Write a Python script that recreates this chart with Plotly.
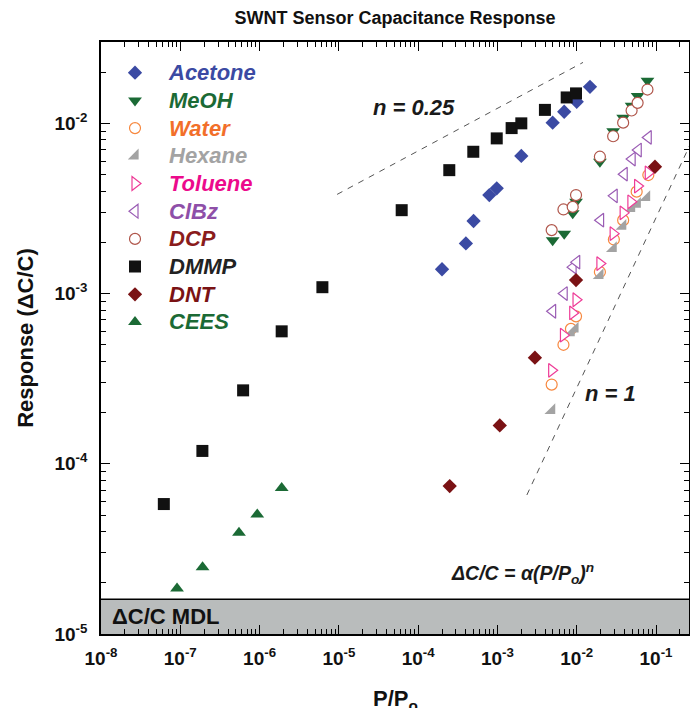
import plotly.graph_objects as go

# ---- measured responses (P/Po, dC/C) ----
ACETONE_X = [2.0e-4, 4.0e-4, 5.0e-4, 7.9e-4, 9.8e-4, 2.0e-3, 4.97e-3, 6.95e-3, 1.0e-2, 1.47e-2]
ACETONE_Y = [1.39e-3, 1.97e-3, 2.67e-3, 3.79e-3, 4.15e-3, 6.44e-3, 1.01e-2, 1.17e-2, 1.34e-2, 1.64e-2]

MEOH_X = [4.97e-3, 6.95e-3, 8.9e-3, 9.8e-3, 1.96e-2, 2.88e-2, 3.85e-2, 4.92e-2, 5.86e-2, 7.8e-2]
MEOH_Y = [2.06e-3, 2.25e-3, 2.96e-3, 3.46e-3, 5.94e-3, 9.0e-3, 1.08e-2, 1.27e-2, 1.45e-2, 1.78e-2]

WATER_X = [4.83e-3, 6.8e-3, 8.45e-3, 9.8e-3, 1.96e-2, 2.94e-2, 3.85e-2, 5.7e-2, 8.0e-2]
WATER_Y = [2.92e-4, 5.0e-4, 6.2e-4, 7.35e-4, 1.34e-3, 2.08e-3, 2.7e-3, 3.97e-3, 4.97e-3]

HEXANE_X = [4.83e-3, 8.5e-3, 9.5e-3, 1.96e-2, 2.88e-2, 3.8e-2, 4.92e-2, 5.8e-2, 7.6e-2]
HEXANE_Y = [2.06e-4, 5.9e-4, 6.2e-4, 1.28e-3, 1.84e-3, 2.49e-3, 3.16e-3, 3.35e-3, 3.67e-3]

TOLUENE_X = [4.83e-3, 6.8e-3, 8.9e-3, 9.8e-3, 1.96e-2, 2.88e-2, 3.85e-2, 4.82e-2, 5.86e-2, 7.98e-2]
TOLUENE_Y = [3.54e-4, 5.7e-4, 7.7e-4, 9.2e-4, 1.5e-3, 2.25e-3, 2.98e-3, 3.46e-3, 4.28e-3, 5.12e-3]

CLBZ_X = [4.97e-3, 6.95e-3, 9.0e-3, 1.0e-2, 2.0e-2, 2.97e-2, 3.97e-2, 5.0e-2, 5.97e-2, 7.98e-2]
CLBZ_Y = [7.87e-4, 1.0e-3, 1.43e-3, 1.53e-3, 2.7e-3, 3.75e-3, 5.03e-3, 6.17e-3, 6.97e-3, 8.27e-3]

DCP_X = [4.83e-3, 6.8e-3, 8.9e-3, 9.8e-3, 1.96e-2, 2.88e-2, 3.85e-2, 4.92e-2, 5.86e-2, 7.8e-2]
DCP_Y = [2.36e-3, 3.12e-3, 3.23e-3, 3.79e-3, 6.37e-3, 8.4e-3, 1.01e-2, 1.19e-2, 1.32e-2, 1.58e-2]

DMMP_X = [6.2e-8, 1.9e-7, 6.2e-7, 1.9e-6, 6.2e-6, 6.2e-5, 2.47e-4, 4.96e-4, 9.8e-4, 1.51e-3,
          2.0e-3, 3.97e-3, 7.47e-3, 9.8e-3]
DMMP_Y = [5.8e-5, 1.19e-4, 2.7e-4, 6.0e-4, 1.09e-3, 3.09e-3, 5.31e-3, 6.81e-3, 8.16e-3, 9.38e-3,
          1.0e-2, 1.2e-2, 1.42e-2, 1.5e-2]

DNT_X = [2.5e-4, 1.07e-3, 2.97e-3, 9.8e-3, 9.7e-2]
DNT_Y = [7.4e-5, 1.68e-4, 4.2e-4, 1.2e-3, 5.56e-3]

CEES_X = [9.1e-8, 1.91e-7, 5.5e-7, 9.35e-7, 1.9e-6]
CEES_Y = [1.85e-5, 2.47e-5, 3.93e-5, 5.04e-5, 7.2e-5]

# ---- power-law guide lines: dC/C = alpha * (P/Po)^n ----
GUIDE_LOW_N = 0.25
GUIDE_LOW_ALPHA = 6.89e-2
GUIDE_LOW_X = [9.5e-6, 1.2e-2]
GUIDE_HIGH_N = 1.0
GUIDE_HIGH_ALPHA = 2.79e-2
GUIDE_HIGH_X = [2.35e-3, 0.27]

MDL = 1.6e-5          # minimum detectable dC/C
Y_FLOOR = 1.0e-5

X_TICKS = [1e-8, 1e-7, 1e-6, 1e-5, 1e-4, 1e-3, 1e-2, 1e-1]
X_TICK_TEXT = ["10<sup>-8</sup>", "10<sup>-7</sup>", "10<sup>-6</sup>", "10<sup>-5</sup>",
               "10<sup>-4</sup>", "10<sup>-3</sup>", "10<sup>-2</sup>", "10<sup>-1</sup>"]
Y_TICKS = [1e-5, 1e-4, 1e-3, 1e-2]
Y_TICK_TEXT = ["10<sup>-5</sup>", "10<sup>-4</sup>", "10<sup>-3</sup>", "10<sup>-2</sup>"]

FONT = "Liberation Sans, Arial, sans-serif"

SERIES = [
    # name, x, y, symbol, size, marker fill, marker line, label colour
    ("Acetone", ACETONE_X, ACETONE_Y, "diamond", 11, "#3b4aa3", "#3b4aa3", "#3b4aa3"),
    ("MeOH", MEOH_X, MEOH_Y, "triangle-down", 12, "#1b6a35", "#1b6a35", "#1b6a35"),
    ("Water", WATER_X, WATER_Y, "circle", 11, "white", "#f7883f", "#f26f2a"),
    ("Hexane", HEXANE_X, HEXANE_Y, "triangle-se", 12, "#a3a3a3", "#a3a3a3", "#a3a3a3"),
    ("Toluene", TOLUENE_X, TOLUENE_Y, "triangle-right", 12, "white", "#ee3b97", "#ec0a8c"),
    ("ClBz", CLBZ_X, CLBZ_Y, "triangle-left", 12, "white", "#9a5cb4", "#8e4fa8"),
    ("DCP", DCP_X, DCP_Y, "circle", 11, "white", "#b0564b", "#8a1c1c"),
    ("DMMP", DMMP_X, DMMP_Y, "square", 12, "#111111", "#111111", "#222222"),
    ("DNT", DNT_X, DNT_Y, "diamond", 11, "#7a1214", "#7a1214", "#7a1214"),
    ("CEES", CEES_X, CEES_Y, "triangle-up", 12, "#1b6a35", "#1b6a35", "#1b6a35"),
]

fig = go.Figure()

# dashed guide lines
for alpha, n, xs in [(GUIDE_LOW_ALPHA, GUIDE_LOW_N, GUIDE_LOW_X),
                     (GUIDE_HIGH_ALPHA, GUIDE_HIGH_N, GUIDE_HIGH_X)]:
    fig.add_trace(go.Scatter(
        x=xs, y=[alpha * v ** n for v in xs], mode="lines",
        line=dict(color="#555555", width=1, dash="6px,6px"),
        showlegend=False, hoverinfo="skip"))

for name, xs, ys, sym, size, fill, edge, tcol in SERIES:
    fig.add_trace(go.Scatter(
        x=xs, y=ys, mode="markers", legendgroup=name,
        name=(f"<span style='color:{tcol};font-size:22px'>"
              f"<b><i>{name}</i></b></span>"),
        marker=dict(symbol=sym, size=size, color=fill,
                    line=dict(color=edge, width=1.2 if fill == "white" else 0))))

# detection-limit band
fig.add_shape(type="rect", xref="paper", x0=0, x1=1, yref="y", y0=Y_FLOOR, y1=MDL,
              fillcolor="#b9bcbc", line=dict(width=0), layer="below")
fig.add_shape(type="line", xref="paper", x0=0, x1=1, yref="y", y0=MDL, y1=MDL,
              line=dict(color="black", width=1.5))

ann_font = dict(family=FONT, size=22, color="#1a1a1a")
fig.add_annotation(x=-4.053, y=-1.904, xref="x", yref="y", showarrow=False,
                   text="<b><i>n = 0.25</i></b>", font=ann_font)
fig.add_annotation(x=-1.569, y=-3.586, xref="x", yref="y", showarrow=False,
                   text="<b><i>n = 1</i></b>", font=ann_font)
fig.add_annotation(x=-2.678, y=-4.645, xref="x", yref="y", showarrow=False,
                   text="<b><i>ΔC/C = α(P/P<sub>o</sub>)<sup>n</sup></i></b>",
                   font=dict(family=FONT, size=19.5, color="#1a1a1a"))
fig.add_annotation(x=0.015, y=-4.895, xref="paper", yref="y", showarrow=False,
                   xanchor="left", text="<b>ΔC/C MDL</b>",
                   font=dict(family=FONT, size=22, color="#111111"))
# x-axis title, set low so that it sits at the page's bottom edge
fig.add_annotation(x=0.5, y=-0.112, xref="paper", yref="paper", showarrow=False,
                   yanchor="middle", text="<b>P/P<sub>o</sub></b>",
                   font=dict(family=FONT, size=22, color="#111111"))

axis_common = dict(
    type="log", showgrid=False, zeroline=False, showline=True, linecolor="black",
    linewidth=1.5, mirror="allticks", ticks="inside", ticklen=9, tickwidth=1.2,
    tickcolor="black", tickmode="array", automargin=False,
    tickfont=dict(family=FONT, size=19, color="#111111"),
    minor=dict(ticks="inside", ticklen=5, tickwidth=1, tickcolor="black",
               dtick="D1", showgrid=False),
)

fig.update_xaxes(**axis_common, range=[-8, -0.584], tickvals=X_TICKS,
                 ticktext=[f"<b>{t}</b>" for t in X_TICK_TEXT], ticklabelstandoff=6)
fig.update_yaxes(**axis_common, range=[-5, -1.522], tickvals=Y_TICKS,
                 ticktext=[f"<b>{t}</b>" for t in Y_TICK_TEXT], ticklabelstandoff=8,
                 title=dict(text="<b>Response (ΔC/C)</b>", standoff=15,
                            font=dict(family=FONT, size=22, color="#111111")))

fig.update_layout(
    width=690, height=708,
    margin=dict(l=101, r=1, t=42, b=74, autoexpand=False),
    paper_bgcolor="white", plot_bgcolor="white",
    font=dict(family=FONT),
    title=dict(text="<b>SWNT Sensor Capacitance Response</b>", x=395 / 690, xanchor="center",
               y=1 - 18 / 708, yanchor="middle",
               font=dict(family=FONT, size=18, color="#111111")),
    legend=dict(x=0.0, y=0.98, xanchor="left", yanchor="top", bgcolor="rgba(0,0,0,0)",
                tracegroupgap=0, font=dict(family=FONT, size=19), itemwidth=58),
)

fig.write_html("out.html")
